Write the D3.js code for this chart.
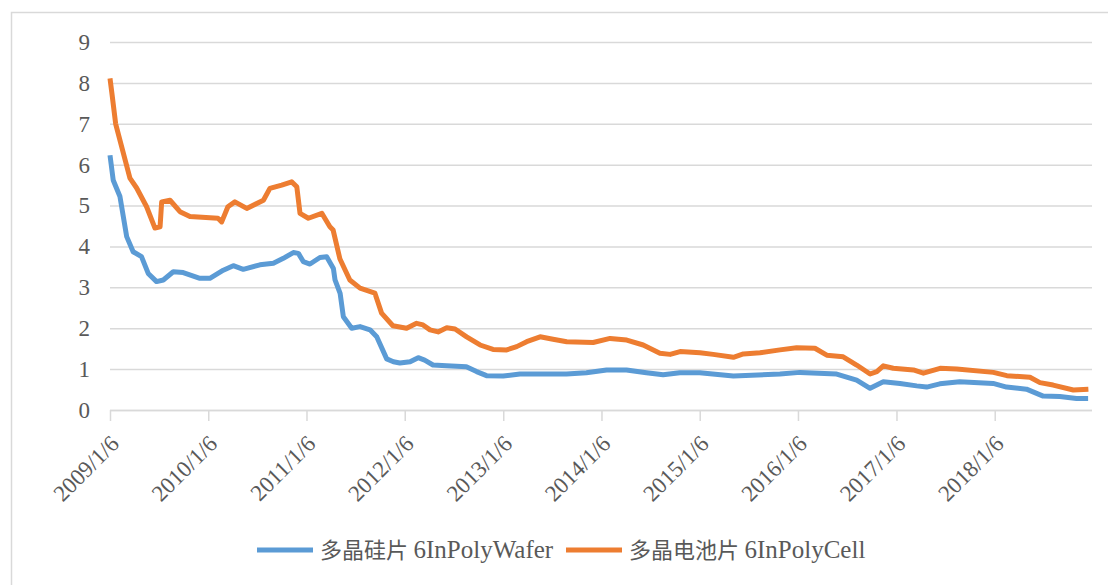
<!DOCTYPE html>
<html>
<head>
<meta charset="utf-8">
<script src="https://cdn.jsdelivr.net/npm/d3@7"></script>
<style>
  body { margin: 0; background: #fff; }
  text { font-family: "Liberation Serif", "Noto Sans CJK SC", serif; fill: #595959; }
</style>
</head>
<body>
<div id="chart"></div>
<script>
// weekly prices (USD / piece)
const waferData = [
  ["2009-01-06", 6.23], ["2009-01-18", 5.62], ["2009-02-12", 5.22], ["2009-03-09", 4.24],
  ["2009-04-02", 3.87], ["2009-05-03", 3.75], ["2009-05-28", 3.34], ["2009-06-28", 3.14],
  ["2009-07-23", 3.18], ["2009-08-29", 3.38], ["2009-10-05", 3.36], ["2009-12-06", 3.22],
  ["2010-01-12", 3.22], ["2010-03-03", 3.42], ["2010-04-09", 3.53], ["2010-05-16", 3.44],
  ["2010-07-17", 3.55], ["2010-09-05", 3.59], ["2010-10-12", 3.71], ["2010-11-18", 3.85],
  ["2010-12-07", 3.83], ["2010-12-25", 3.63], ["2011-01-19", 3.57], ["2011-02-25", 3.73],
  ["2011-03-22", 3.75], ["2011-04-16", 3.46], ["2011-04-22", 3.18], ["2011-05-11", 2.85],
  ["2011-05-23", 2.28], ["2011-06-23", 2.00], ["2011-07-24", 2.04], ["2011-08-30", 1.96],
  ["2011-09-24", 1.79], ["2011-10-31", 1.25], ["2011-11-25", 1.18], ["2011-12-19", 1.15],
  ["2012-01-26", 1.18], ["2012-02-25", 1.28], ["2012-03-20", 1.22], ["2012-04-20", 1.10],
  ["2012-06-09", 1.08], ["2012-08-22", 1.06], ["2012-09-29", 0.94], ["2012-11-05", 0.84],
  ["2013-01-06", 0.83], ["2013-03-09", 0.88], ["2013-08-29", 0.88], ["2013-11-11", 0.91],
  ["2014-01-25", 0.98], ["2014-04-09", 0.98], ["2014-06-22", 0.91], ["2014-08-23", 0.86],
  ["2014-10-24", 0.91], ["2015-01-06", 0.91], ["2015-05-11", 0.83], ["2015-10-31", 0.88],
  ["2016-01-14", 0.92], ["2016-05-29", 0.88], ["2016-08-11", 0.73], ["2016-09-30", 0.53],
  ["2016-11-18", 0.69], ["2017-01-19", 0.65], ["2017-03-22", 0.59], ["2017-04-28", 0.56],
  ["2017-06-16", 0.64], ["2017-08-29", 0.69], ["2017-12-31", 0.65], ["2018-02-19", 0.56],
  ["2018-05-04", 0.51], ["2018-07-05", 0.34], ["2018-09-05", 0.33], ["2018-11-06", 0.28],
  ["2018-12-19", 0.28]
];

const cellData = [
  ["2009-01-06", 8.11], ["2009-01-13", 7.75], ["2009-01-27", 7.00], ["2009-03-21", 5.67],
  ["2009-04-15", 5.43], ["2009-05-22", 4.97], ["2009-06-22", 4.45], ["2009-07-11", 4.48],
  ["2009-07-17", 5.09], ["2009-08-17", 5.13], ["2009-09-23", 4.85], ["2009-10-30", 4.73],
  ["2010-02-11", 4.69], ["2010-02-25", 4.60], ["2010-03-20", 4.97], ["2010-04-15", 5.09],
  ["2010-05-29", 4.93], ["2010-07-30", 5.13], ["2010-08-23", 5.42], ["2010-10-06", 5.50],
  ["2010-11-12", 5.58], ["2010-12-01", 5.46], ["2010-12-13", 4.81], ["2011-01-13", 4.69],
  ["2011-03-04", 4.81], ["2011-04-03", 4.48], ["2011-04-15", 4.40], ["2011-05-10", 3.70],
  ["2011-06-16", 3.18], ["2011-07-24", 2.98], ["2011-09-17", 2.86], ["2011-10-12", 2.37],
  ["2011-11-23", 2.06], ["2012-01-13", 2.00], ["2012-02-19", 2.12], ["2012-03-14", 2.08],
  ["2012-04-09", 1.96], ["2012-05-09", 1.91], ["2012-06-10", 2.01], ["2012-07-11", 1.98],
  ["2012-08-23", 1.79], ["2012-10-12", 1.59], ["2012-11-29", 1.48], ["2013-01-19", 1.47],
  ["2013-02-25", 1.55], ["2013-04-03", 1.67], ["2013-05-23", 1.79], ["2013-07-10", 1.73],
  ["2013-08-30", 1.67], ["2013-12-06", 1.65], ["2014-02-07", 1.75], ["2014-04-10", 1.71],
  ["2014-06-10", 1.59], ["2014-08-11", 1.39], ["2014-09-18", 1.36], ["2014-10-25", 1.43],
  ["2015-01-07", 1.40], ["2015-02-25", 1.36], ["2015-05-11", 1.29], ["2015-06-17", 1.37],
  ["2015-08-18", 1.40], ["2015-10-31", 1.47], ["2016-01-01", 1.52], ["2016-03-09", 1.51],
  ["2016-04-22", 1.34], ["2016-06-22", 1.30], ["2016-08-11", 1.10], ["2016-09-30", 0.88],
  ["2016-10-25", 0.94], ["2016-11-18", 1.08], ["2016-12-25", 1.02], ["2017-03-10", 0.98],
  ["2017-04-16", 0.90], ["2017-06-17", 1.02], ["2017-08-18", 1.00], ["2018-01-01", 0.92],
  ["2018-02-20", 0.84], ["2018-05-17", 0.80], ["2018-06-23", 0.67], ["2018-08-11", 0.61],
  ["2018-10-25", 0.49], ["2018-12-20", 0.51]
];

const yTicks = [0, 1, 2, 3, 4, 5, 6, 7, 8, 9];
const xTickDates = ["2009-01-06", "2010-01-06", "2011-01-06", "2012-01-06", "2013-01-06",
  "2014-01-06", "2015-01-06", "2016-01-06", "2017-01-06", "2018-01-06"];

const seriesNamesCn = ["多晶硅片", "多晶电池片"];
const seriesNamesEn = ["6InPolyWafer", "6InPolyCell"];
const seriesColors = ["#5b9bd5", "#ed7d31"];

const width = 1108, height = 585;
const plotLeft = 110, plotRight = 1090, plotTop = 42, plotBottom = 410;

const parseDate = d3.timeParse("%Y-%m-%d");

const svg = d3.select("#chart").append("svg")
    .attr("width", width)
    .attr("height", height);

// outer frame (only left and top edges are visible)
svg.append("path")
    .attr("d", `M11.5,${height}V12.5H${width}`)
    .attr("fill", "none")
    .attr("stroke", "#d9d9d9")
    .attr("stroke-width", 1.5);

const x = d3.scaleTime()
    .domain([parseDate("2009-01-06"), parseDate("2018-12-26")])
    .range([plotLeft, plotRight]);

const y = d3.scaleLinear()
    .domain([0, 9])
    .range([plotBottom, plotTop]);

// horizontal grid lines + y labels
const yAxis = svg.append("g")
    .attr("transform", `translate(${plotLeft},0)`)
    .call(d3.axisLeft(y).tickValues(yTicks).tickSize(-(plotRight + 2 - plotLeft)).tickPadding(20).tickFormat(d3.format("d")));
yAxis.select(".domain").remove();
yAxis.selectAll(".tick line").attr("stroke", "#d9d9d9").attr("stroke-width", 1.5);
yAxis.selectAll(".tick text")
    .attr("font-size", 23)
    .attr("fill", "#595959")
    .style("font-family", "Liberation Serif");

// x axis with year ticks
const xAxis = svg.append("g")
    .attr("transform", `translate(0,${plotBottom})`)
    .call(d3.axisBottom(x)
        .tickValues(xTickDates.map(parseDate))
        .tickSize(11)
        .tickFormat(function(d) { return `${d.getFullYear()}/1/6`; }));
xAxis.select(".domain")
    .attr("d", `M${plotLeft},0.5H${plotRight + 2}`)
    .attr("stroke", "#d9d9d9")
    .attr("stroke-width", 1.5);
xAxis.selectAll(".tick line").attr("stroke", "#d9d9d9").attr("stroke-width", 1.5);
xAxis.selectAll(".tick text")
    .attr("font-size", 23)
    .attr("fill", "#595959")
    .style("font-family", "Liberation Serif")
    .attr("text-anchor", "end")
    .attr("dy", null)
    .attr("y", null)
    .attr("transform", "translate(10,35) rotate(-45)");

const line = d3.line()
    .x(function(d) { return x(parseDate(d[0])); })
    .y(function(d) { return y(d[1]); });

[waferData, cellData].forEach(function(data, i) {
    svg.append("path")
        .datum(data)
        .attr("fill", "none")
        .attr("stroke", seriesColors[i])
        .attr("stroke-width", 5)
        .attr("stroke-linejoin", "round")
        .attr("d", line);
});

// legend
const legendX = [257, 566];
const legend = svg.append("g").attr("transform", "translate(0,550)");
seriesNamesCn.forEach(function(name, i) {
    legend.append("line")
        .attr("x1", legendX[i]).attr("x2", legendX[i] + 56)
        .attr("y1", 0).attr("y2", 0)
        .attr("stroke", seriesColors[i])
        .attr("stroke-width", 5);
    const t = legend.append("text")
        .attr("x", legendX[i] + 63)
        .attr("y", 0)
        .attr("dy", "0.35em")
        .attr("font-size", 22);
    t.append("tspan").text(name + " ");
    t.append("tspan").attr("font-size", 25).text(seriesNamesEn[i]);
});
</script>
</body>
</html>
